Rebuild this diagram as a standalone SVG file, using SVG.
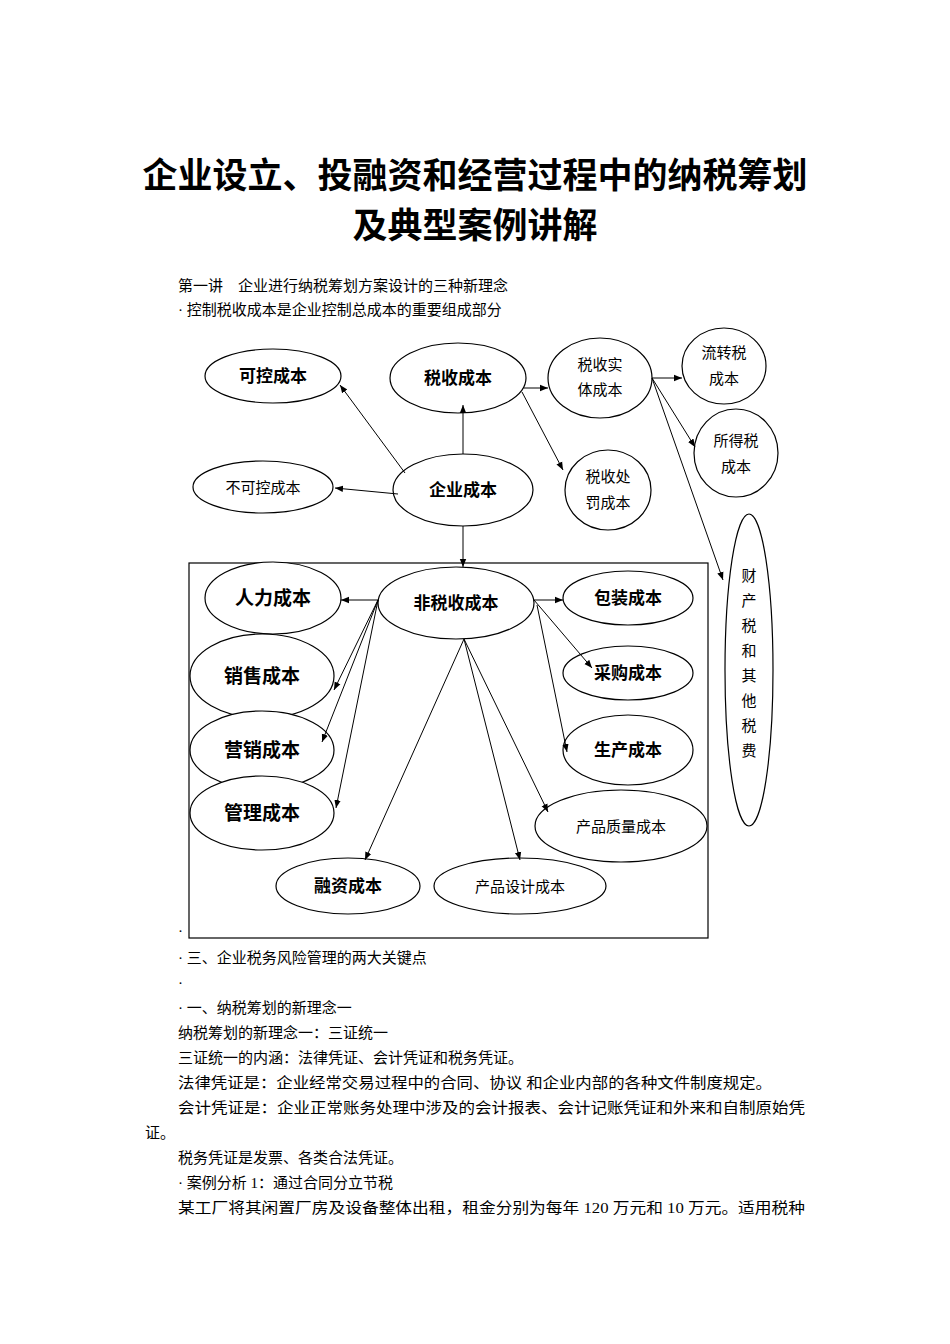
<svg xmlns="http://www.w3.org/2000/svg" width="950" height="1344" viewBox="0 0 950 1344">
<style>
.t{font-family:"Liberation Serif","Noto Sans CJK SC",serif;font-size:15px;fill:#000}
.h{font-family:"Liberation Serif","Noto Sans CJK SC",serif;font-size:35px;font-weight:bold;text-anchor:middle}
ellipse{fill:#fff;stroke:#000;stroke-width:1.2}
.n{font-family:"Noto Sans CJK SC",sans-serif;font-weight:bold;text-anchor:middle;font-size:17px}
.s{font-family:"Noto Sans CJK SC",sans-serif;text-anchor:middle;font-size:15px}
#c line{stroke:#000;stroke-width:1;marker-end:url(#a)}
</style>
<defs><marker id="a" viewBox="0 0 10 10" refX="10" refY="5" markerWidth="8" markerHeight="8" orient="auto"><path d="M0,1 L10,5 L0,9 z"/></marker></defs>
<rect width="950" height="1344" fill="#fff"/>
<text class="h" x="475" y="188">企业设立、投融资和经营过程中的纳税筹划</text>
<text class="h" x="475" y="238">及典型案例讲解</text>
<text class="t" x="178" y="291">第一讲　企业进行纳税筹划方案设计的三种新理念</text>
<text class="t" x="178" y="315">· 控制税收成本是企业控制总成本的重要组成部分</text>
<rect x="189" y="563" width="519" height="375" fill="none" stroke="#000" stroke-width="1.2"/>
<g id="n1"><ellipse cx="273" cy="376" rx="68" ry="27"/><text class="n" x="273" y="382">可控成本</text></g>
<g id="n2"><ellipse cx="458" cy="378" rx="68" ry="35"/><text class="n" x="458" y="384">税收成本</text></g>
<g id="n3"><ellipse cx="600" cy="378" rx="52" ry="40"/><text class="s" x="600" y="370">税收实</text><text class="s" x="600" y="395">体成本</text></g>
<g id="n4"><ellipse cx="724" cy="366" rx="42" ry="38"/><text class="s" x="724" y="358">流转税</text><text class="s" x="724" y="384">成本</text></g>
<g id="n5"><ellipse cx="736" cy="453" rx="42" ry="44"/><text class="s" x="736" y="446">所得税</text><text class="s" x="736" y="472">成本</text></g>
<g id="n6"><ellipse cx="263" cy="487" rx="70" ry="26"/><text class="s" x="263" y="493">不可控成本</text></g>
<g id="n7"><ellipse cx="463" cy="490" rx="70" ry="36"/><text class="n" x="463" y="496">企业成本</text></g>
<g id="n8"><ellipse cx="608" cy="490" rx="43" ry="40"/><text class="s" x="608" y="482">税收处</text><text class="s" x="608" y="508">罚成本</text></g>
<g id="n9"><ellipse cx="749" cy="670" rx="24" ry="156"/>
<text class="s" x="749" y="581">财</text><text class="s" x="749" y="606">产</text><text class="s" x="749" y="631">税</text><text class="s" x="749" y="656">和</text><text class="s" x="749" y="681">其</text><text class="s" x="749" y="706">他</text><text class="s" x="749" y="731">税</text><text class="s" x="749" y="756">费</text></g>
<g id="n10"><ellipse cx="456" cy="603" rx="78" ry="36"/><text class="n" x="456" y="609">非税收成本</text></g>
<g id="n11"><ellipse cx="273" cy="598" rx="68" ry="36"/><text class="n" x="273" y="605" style="font-size:19px">人力成本</text></g>
<g id="n12"><ellipse cx="262" cy="676" rx="72" ry="42"/><text class="n" x="262" y="683" style="font-size:19px">销售成本</text></g>
<g id="n13"><ellipse cx="262" cy="750" rx="72" ry="39"/><text class="n" x="262" y="757" style="font-size:19px">营销成本</text></g>
<g id="n14"><ellipse cx="262" cy="813" rx="72" ry="37"/><text class="n" x="262" y="820" style="font-size:19px">管理成本</text></g>
<g id="n15"><ellipse cx="628" cy="598" rx="65" ry="27"/><text class="n" x="628" y="604">包装成本</text></g>
<g id="n16"><ellipse cx="628" cy="673" rx="65" ry="27"/><text class="n" x="628" y="679">采购成本</text></g>
<g id="n17"><ellipse cx="628" cy="750" rx="65" ry="35"/><text class="n" x="628" y="756">生产成本</text></g>
<g id="n18"><ellipse cx="621" cy="826" rx="86" ry="36"/><text class="s" x="621" y="832">产品质量成本</text></g>
<g id="n19"><ellipse cx="348" cy="886" rx="72" ry="28"/><text class="n" x="348" y="892">融资成本</text></g>
<g id="n20"><ellipse cx="520" cy="886" rx="86" ry="28"/><text class="s" x="520" y="892">产品设计成本</text></g>
<g id="c">
<line x1="463" y1="454" x2="463" y2="405"/>
<line x1="405" y1="473" x2="340" y2="385"/>
<line x1="398" y1="494" x2="335" y2="488"/>
<line x1="463" y1="526" x2="463" y2="567"/>
<line x1="524" y1="388" x2="548" y2="388"/>
<line x1="522" y1="392" x2="563" y2="470"/>
<line x1="652" y1="378" x2="682" y2="378"/>
<line x1="652" y1="378" x2="695" y2="447"/>
<line x1="652" y1="378" x2="723" y2="580"/>
<line x1="378" y1="600" x2="341" y2="600"/>
<line x1="378" y1="600" x2="334" y2="690"/>
<line x1="378" y1="600" x2="322" y2="742"/>
<line x1="378" y1="600" x2="336" y2="808"/>
<line x1="534" y1="600" x2="563" y2="600"/>
<line x1="534" y1="600" x2="592" y2="668"/>
<line x1="537" y1="605" x2="567" y2="752"/>
<line x1="464" y1="639" x2="548" y2="812"/>
<line x1="464" y1="639" x2="520" y2="860"/>
<line x1="464" y1="639" x2="365" y2="860"/>
</g>
<text class="t" x="178" y="936">·</text>
<text class="t" x="178" y="963">· 三、企业税务风险管理的两大关键点</text>
<text class="t" x="178" y="988">·</text>
<text class="t" x="178" y="1013">· 一、纳税筹划的新理念一</text>
<text class="t" x="178" y="1038">纳税筹划的新理念一：三证统一</text>
<text class="t" x="178" y="1063">三证统一的内涵：法律凭证、会计凭证和税务凭证。</text>
<text class="t" x="178" y="1088" textLength="594" lengthAdjust="spacingAndGlyphs">法律凭证是：企业经常交易过程中的合同、协议 和企业内部的各种文件制度规定。</text>
<text class="t" x="178" y="1113" textLength="627" lengthAdjust="spacingAndGlyphs">会计凭证是：企业正常账务处理中涉及的会计报表、会计记账凭证和外来和自制原始凭</text>
<text class="t" x="145" y="1138">证。</text>
<text class="t" x="178" y="1163">税务凭证是发票、各类合法凭证。</text>
<text class="t" x="178" y="1188">· 案例分析 1：通过合同分立节税</text>
<text class="t" x="178" y="1213" textLength="627" lengthAdjust="spacingAndGlyphs">某工厂将其闲置厂房及设备整体出租，租金分别为每年 120 万元和 10 万元。适用税种</text>
</svg>
